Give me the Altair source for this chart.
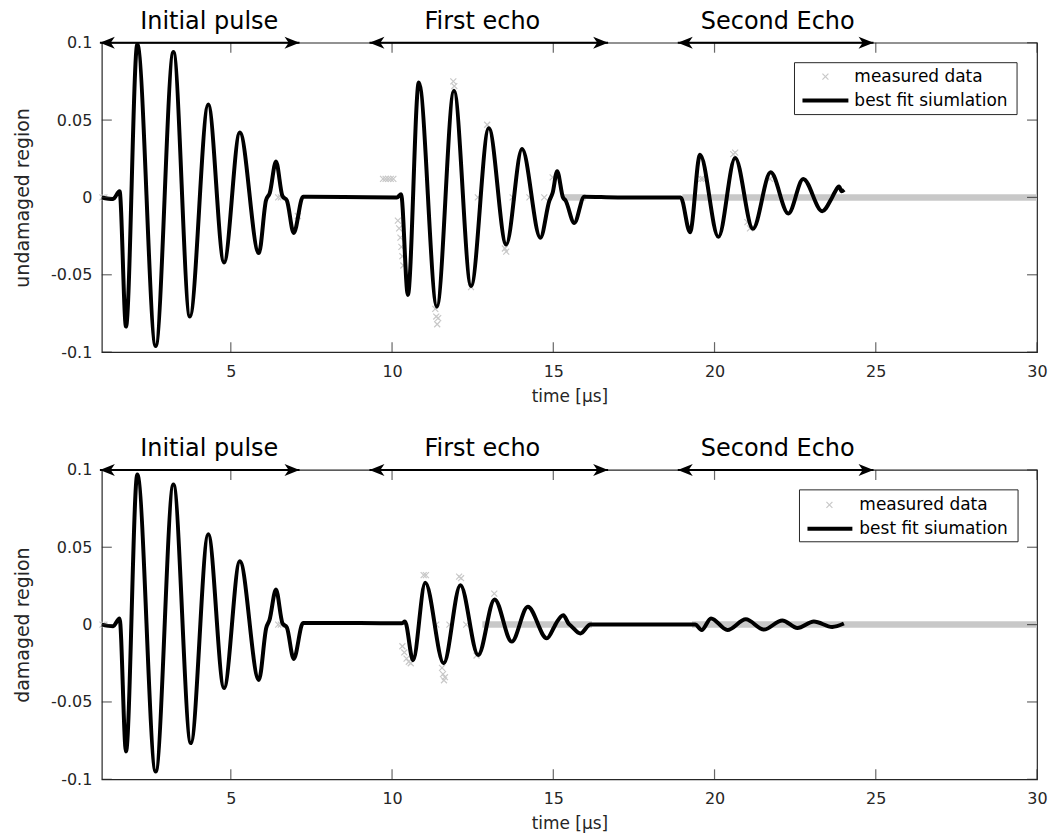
import altair as alt
import pandas as pd

FONT = "DejaVu Sans"
AX = "#262626"
GRAY = "#c8c8c8"
W, H = 937, 310

X_TICKS = [5, 10, 15, 20, 25, 30]
Y_TICKS = [-0.1, -0.05, 0, 0.05, 0.1]

# ---- best fit simulation, undamaged region (time in µs, amplitude)
top_sim_t = [1.00, 1.35, 1.55, 1.75, 2.10, 2.67, 3.22, 3.73, 4.30, 4.79,
             5.28, 5.87, 6.09, 6.21, 6.40, 6.60, 6.74, 6.95, 7.24, 7.40,
             8.50, 10.15, 10.28, 10.49, 10.83, 11.39, 11.92, 12.45, 13.00, 13.54,
             14.03, 14.60, 14.88, 14.98, 15.12, 15.30, 15.38, 15.65, 15.96, 17.00,
             18.95, 19.24, 19.55, 20.12, 20.64, 21.19, 21.74, 22.29, 22.75, 23.34,
             23.62, 23.72, 23.86, 23.94, 24.02]
top_sim_v = [0.000, -0.001, 0.004, -0.0835, 0.099, -0.096, 0.094, -0.077, 0.060, -0.042,
             0.042, -0.036, -0.002, 0.003, 0.0233, 0.001, -0.002, -0.023, 0.0005, 0.0005,
             0.0003, 0.000, 0.002, -0.063, 0.0743, -0.0706, 0.069, -0.0573, 0.0448, -0.0304,
             0.0313, -0.026, -0.002, 0.003, 0.017, 0.000, -0.002, -0.0165, 0.0005, 0.000,
             0.000, -0.0225, 0.0276, -0.0255, 0.0255, -0.0203, 0.0162, -0.0104, 0.0119, -0.0089,
             -0.001, 0.003, 0.007, 0.004, 0.005]

# ---- best fit simulation, damaged region
bot_sim_t = [1.00, 1.35, 1.55, 1.75, 2.10, 2.67, 3.22, 3.76, 4.30, 4.79,
             5.28, 5.87, 6.10, 6.20, 6.40, 6.60, 6.74, 6.95, 7.24, 7.40,
             9.00, 10.30, 10.40, 10.65, 11.03, 11.60, 12.12, 12.67, 13.18, 13.71,
             14.21, 14.80, 15.04, 15.12, 15.31, 15.48, 15.56, 15.84, 16.15, 17.50,
             19.40, 19.60, 19.89, 20.40, 20.97, 21.53, 22.10, 22.57, 23.08, 23.65,
             24.01]
bot_sim_v = [0.000, -0.001, 0.004, -0.082, 0.097, -0.095, 0.0906, -0.0766, 0.0584, -0.041,
             0.041, -0.0358, -0.002, 0.003, 0.0227, 0.001, -0.002, -0.0222, 0.001, 0.001,
             0.001, 0.0008, 0.002, -0.023, 0.027, -0.025, 0.0255, -0.0197, 0.0163, -0.011,
             0.0115, -0.0089, -0.001, 0.002, 0.0061, 0.0005, -0.001, -0.0057, 0.000, 0.000,
             0.000, -0.0035, 0.004, -0.0035, 0.0034, -0.0032, 0.0027, -0.0022, 0.0020, -0.0015,
             0.0007]

# ---- measured data (visible samples)
top_meas_t = [1.02, 1.08, 6.47, 6.55, 7.08, 9.72, 9.80, 9.88, 9.96, 10.04,
              10.18, 10.22, 10.26, 10.29, 10.32, 10.35, 11.34, 11.37, 11.40, 11.43,
              11.90, 11.93, 12.95, 12.45, 13.50, 13.54, 12.66, 13.74, 14.26, 14.72,
              14.98, 19.58, 19.64, 20.58, 20.64, 21.02, 21.10, 21.72]
top_meas_v = [0.0, 0.0, 0.0, 0.0, -0.012, 0.012, 0.012, 0.012, 0.012, 0.012,
              -0.015, -0.020, -0.026, -0.032, -0.038, -0.044, -0.072, -0.077, -0.082, -0.078,
              0.075, 0.072, 0.047, -0.058, -0.033, -0.035, 0.0, 0.0, 0.0, 0.0,
              0.013, 0.012, 0.012, 0.028, 0.029, -0.016, -0.020, 0.012]
bot_meas_t = [1.02, 1.08, 6.47, 6.55, 10.32, 10.38, 10.45, 10.52, 10.58, 10.98,
              11.05, 11.55, 11.58, 11.61, 11.64, 11.37, 11.78, 12.30, 12.08, 12.14,
              13.17, 12.62]
bot_meas_v = [0.0, 0.0, 0.0, 0.0, -0.014, -0.018, -0.022, -0.024, -0.025, 0.032,
              0.032, -0.028, -0.032, -0.036, -0.034, 0.0, 0.0, 0.0, 0.031, 0.030,
              0.020, -0.020]

# dense runs of measured samples at zero (start, end)
top_band_start = [15.30, 19.00]
top_band_end = [16.00, 30.00]
bot_band_start = [12.80, 19.30]
bot_band_end = [16.20, 30.00]

# section annotations
section_names = ["Initial pulse", "First echo", "Second Echo"]
section_center = [4.33, 12.80, 21.96]
section_start = [0.94, 9.30, 18.86]
section_end = [7.13, 16.70, 24.93]

legend_top = ["measured data", "best fit siumlation"]
legend_bot = ["measured data", "best fit siumation"]

XPATH = "M-1,-1L1,1M-1,1L1,-1"
HEAD_R = "M0,0L-2,-0.8L-1.45,0L-2,0.8Z"
HEAD_L = "M0,0L2,-0.8L1.45,0L2,0.8Z"

xscale = alt.Scale(domain=[1, 30], nice=False, zero=False)
yscale = alt.Scale(domain=[-0.1, 0.1], nice=False, zero=False)

xaxis = alt.Axis(values=X_TICKS, title="time [µs]", domain=False, ticks=False, grid=False,
                 labelFont=FONT, labelFontSize=16, labelColor=AX, labelPadding=11,
                 titleFont=FONT, titleFontSize=17, titleFontWeight="normal", titleColor=AX,
                 titlePadding=9, labelFlush=False)


def yaxis(title):
    return alt.Axis(values=Y_TICKS, title=title, domain=False, ticks=False, grid=False,
                    labelExpr="datum.value < 0 ? '-' + format(-datum.value, '~g') : format(datum.value, '~g')",
                    labelFont=FONT, labelFontSize=16, labelColor=AX, labelPadding=10,
                    titleFont=FONT, titleFontSize=19, titleFontWeight="normal", titleColor=AX,
                    titlePadding=18)


def one():
    return alt.Chart(pd.DataFrame({"k": [0]}))


def panel(sim_t, sim_v, meas_t, meas_v, bs, be, ylabel, leg_labels, leg):
    ya = yaxis(ylabel)
    X = lambda f: alt.X(f, type="quantitative", scale=xscale, axis=xaxis)
    Y = lambda f: alt.Y(f, type="quantitative", scale=yscale, axis=ya)

    sim = pd.DataFrame({"t": sim_t, "v": sim_v})
    meas = pd.DataFrame({"t": meas_t, "v": meas_v})
    band = pd.DataFrame({"t": bs, "t2": be, "v": [0.0] * len(bs)})
    sec = pd.DataFrame({"name": section_names, "t": section_center,
                        "s": section_start, "e": section_end})

    band_l = alt.Chart(band).mark_rule(color=GRAY, strokeWidth=6.5).encode(
        x=X("t"), x2="t2", y=Y("v"))
    meas_l = alt.Chart(meas).mark_point(shape=XPATH, filled=False, size=36,
                                        strokeWidth=1.2, color=GRAY, opacity=1).encode(
        x=X("t"), y=Y("v"))
    sim_l = alt.Chart(sim).mark_line(color="black", strokeWidth=4, interpolate="monotone",
                                     strokeJoin="round").encode(x=X("t"), y=Y("v"))

    # inward ticks
    xt = pd.DataFrame({"t": X_TICKS})
    yt = pd.DataFrame({"v": Y_TICKS})
    tb = alt.Chart(xt).mark_tick(orient="vertical", size=10, thickness=1.2, color=AX).encode(
        x=X("t"), y=alt.value(H - 5))
    tt = alt.Chart(xt).mark_tick(orient="vertical", size=10, thickness=1.2, color=AX).encode(
        x=X("t"), y=alt.value(5))
    tl = alt.Chart(yt).mark_tick(orient="horizontal", size=10, thickness=1.2, color=AX).encode(
        y=Y("v"), x=alt.value(5))
    tr = alt.Chart(yt).mark_tick(orient="horizontal", size=10, thickness=1.2, color=AX).encode(
        y=Y("v"), x=alt.value(W - 5))

    arr = alt.Chart(sec).mark_rule(color="black", strokeWidth=2).encode(
        x=X("s"), x2="e", y=alt.value(0))
    hr = alt.Chart(sec).mark_point(shape=HEAD_R, filled=True, size=225, color="black",
                                   strokeWidth=0, opacity=1).encode(x=X("e"), y=alt.value(0))
    hl = alt.Chart(sec).mark_point(shape=HEAD_L, filled=True, size=225, color="black",
                                   strokeWidth=0, opacity=1).encode(x=X("s"), y=alt.value(0))
    txt = alt.Chart(sec).mark_text(font=FONT, fontSize=24, color="black", align="center",
                                   baseline="alphabetic").encode(
        x=X("t"), y=alt.value(-13.5), text="name:N")

    box = one().mark_rect(fill="white", stroke=AX, strokeWidth=1).encode(
        x=alt.value(leg["x0"]), x2=alt.value(leg["x1"]),
        y=alt.value(20), y2=alt.value(72))
    lx = one().mark_point(shape=XPATH, filled=False, size=36, strokeWidth=1.2,
                          color=GRAY, opacity=1).encode(
        x=alt.value(leg["mx"]), y=alt.value(leg["r1"]))
    ll = one().mark_rule(color="black", strokeWidth=4).encode(
        x=alt.value(leg["l0"]), x2=alt.value(leg["l1"]), y=alt.value(leg["r2"]))
    lt1 = one().mark_text(font=FONT, fontSize=17, color="black", align="left",
                          baseline="middle").encode(
        x=alt.value(leg["tx"]), y=alt.value(leg["r1"]), text=alt.value(leg_labels[0]))
    lt2 = one().mark_text(font=FONT, fontSize=17, color="black", align="left",
                          baseline="middle").encode(
        x=alt.value(leg["tx"]), y=alt.value(leg["r2"]), text=alt.value(leg_labels[1]))

    return alt.layer(band_l, meas_l, sim_l, tb, tt, tl, tr, arr, hr, hl, txt,
                     box, lx, ll, lt1, lt2).properties(width=W, height=H)


leg_t = {"x0": 694, "x1": 917, "mx": 725, "l0": 702, "l1": 748, "tx": 754, "r1": 34, "r2": 58}
leg_b = {"x0": 699, "x1": 918, "mx": 729, "l0": 707, "l1": 752, "tx": 759, "r1": 35, "r2": 59}

top = panel(top_sim_t, top_sim_v, top_meas_t, top_meas_v, top_band_start, top_band_end,
            "undamaged region", legend_top, leg_t)
bot = panel(bot_sim_t, bot_sim_v, bot_meas_t, bot_meas_v, bot_band_start, bot_band_end,
            "damaged region", legend_bot, leg_b)

chart = alt.vconcat(top, bot, spacing=31).configure(
    font=FONT, padding={"left": 5, "top": 0, "right": 0, "bottom": 0}
).configure_view(stroke=AX, strokeWidth=1.2)

chart.save("out.html", embed_options={"renderer": "svg", "actions": False})
